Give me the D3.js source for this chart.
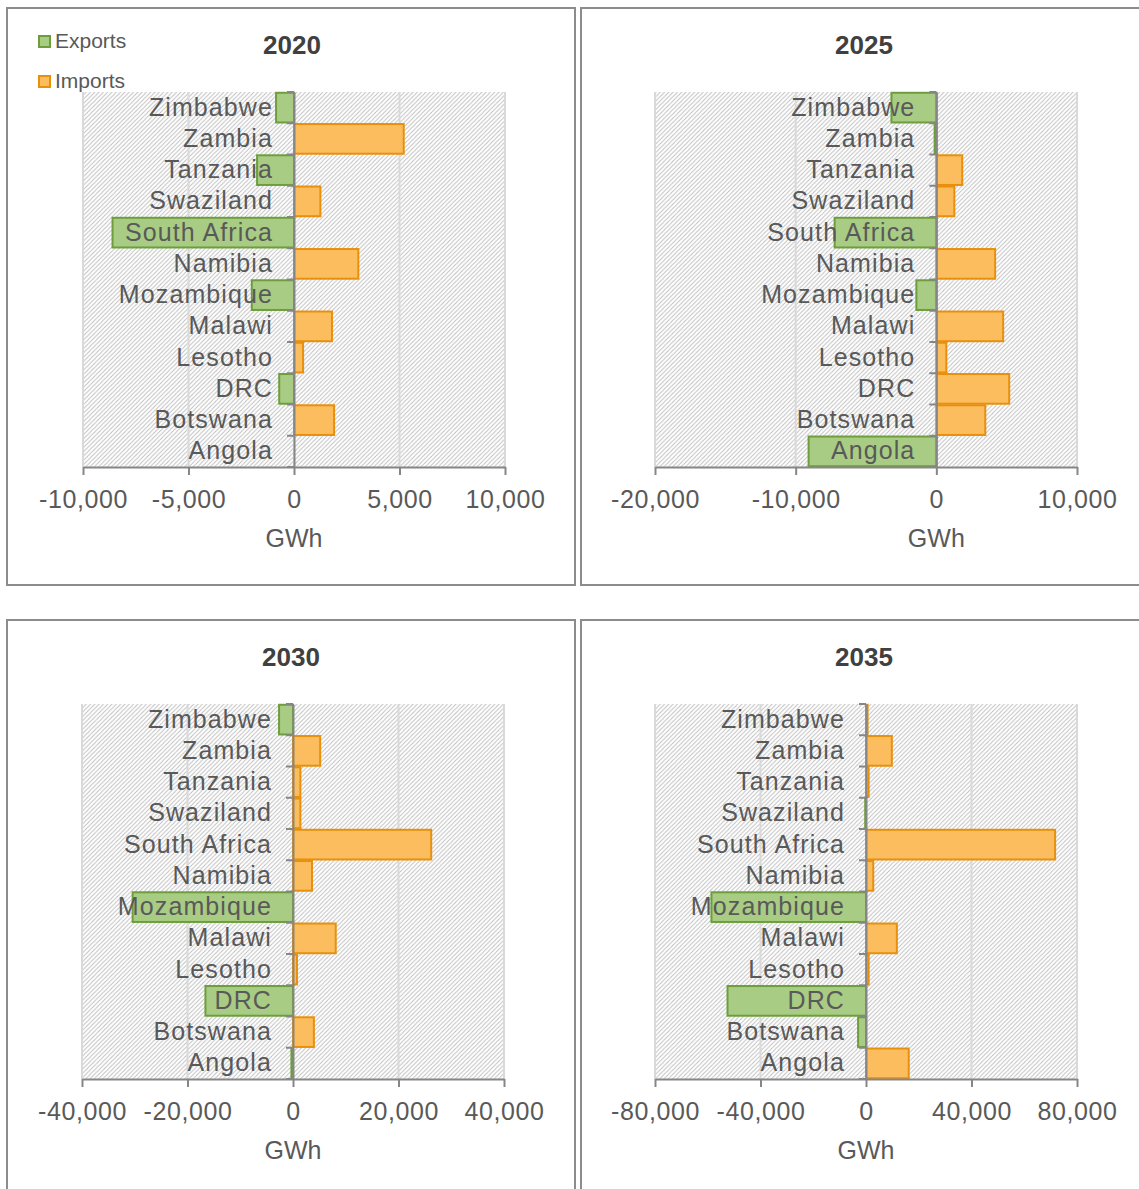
<!DOCTYPE html>
<html>
<head>
<meta charset="utf-8">
<script src="https://d3js.org/d3.v7.min.js"></script>
<style>
  body { margin: 0; background: #fff; }
  text { font-family: "Liberation Sans", Arial, sans-serif; }
</style>
</head>
<body>
<script>
// countries, bottom to top as in the source sheet
var countries = ["Angola", "Botswana", "DRC", "Lesotho", "Malawi", "Mozambique",
                 "Namibia", "South Africa", "Swaziland", "Tanzania", "Zambia", "Zimbabwe"];

// GWh, exports negative, one value per country (same order)
var exports2020 = [0, 0, -700, 0, 0, -2000, 0, -8600, 0, -1750, 0, -850];
var imports2020 = [0, 1900, 0, 430, 1800, 0, 3050, 0, 1250, 0, 5200, 0];

var exports2025 = [-9080, 0, 0, 0, 0, -1420, 0, -7230, 0, 0, -120, -3190];
var imports2025 = [0, 3480, 5180, 710, 4750, 0, 4180, 0, 1280, 1840, 0, 0];

var exports2030 = [-300, 0, -16600, 0, 0, -30400, 0, 0, 0, 0, 0, -2640];
var imports2030 = [0, 3960, 0, 750, 8100, 0, 3600, 26200, 1400, 1400, 5150, 0];

var exports2035 = [0, -3000, -52500, 0, 0, -58600, 0, 0, -300, 0, 0, 0];
var imports2035 = [16200, 0, 0, 1000, 11700, 0, 2750, 71700, 0, 1000, 9800, 600];

var years = ["2020", "2025", "2030", "2035"];
var xTicks2020 = [-10000, -5000, 0, 5000, 10000];
var xTicks2025 = [-20000, -10000, 0, 10000];
var xTicks2030 = [-40000, -20000, 0, 20000, 40000];
var xTicks2035 = [-80000, -40000, 0, 40000, 80000];

var panels = [
  {title: years[0], exp: exports2020, imp: imports2020, ticks: xTicks2020, x: 7,   y: 8,   w: 568, h: 577, px: 76, legend: true},
  {title: years[1], exp: exports2025, imp: imports2025, ticks: xTicks2025, x: 581, y: 8,   w: 560, h: 577, px: 74},
  {title: years[2], exp: exports2030, imp: imports2030, ticks: xTicks2030, x: 7,   y: 620, w: 568, h: 580, px: 75},
  {title: years[3], exp: exports2035, imp: imports2035, ticks: xTicks2035, x: 581, y: 620, w: 560, h: 580, px: 74}
];

var expFill = "#a9cc84", expStroke = "#6e9e3c";
var impFill = "#fbbd5e", impStroke = "#e8900c";
var textCol = "#595959";

var fmt = d3.formatLocale({decimal: ".", thousands: ",", grouping: [3], currency: ["", ""], minus: "-"}).format(",");

var svg = d3.select("body").append("svg")
    .attr("width", 1139)
    .attr("height", 1189);

var defs = svg.append("defs");
var pat = defs.append("pattern")
    .attr("id", "hatch")
    .attr("patternUnits", "userSpaceOnUse")
    .attr("width", 4.3).attr("height", 4.3);
pat.append("rect").attr("width", 4.3).attr("height", 4.3).attr("fill", "#fff");
pat.append("path")
    .attr("d", "M0,4.3 L4.3,0 M-1,1 L1,-1 M3.3,5.3 L5.3,3.3")
    .attr("stroke", "#bcbcbc")
    .attr("stroke-width", 0.9);

var plotW = 422, plotTop = 84, plotH = 375;

panels.forEach(function(p) {
  var g = svg.append("g").attr("transform", "translate(" + p.x + "," + p.y + ")");

  g.append("rect")
    .attr("x", 0).attr("y", 0)
    .attr("width", p.w).attr("height", p.h)
    .attr("fill", "none")
    .attr("stroke", "#8c8c8c")
    .attr("stroke-width", 2);

  g.append("text")
    .attr("x", p.px + plotW / 2 - 2)
    .attr("y", 46)
    .attr("text-anchor", "middle")
    .attr("font-size", 26)
    .attr("font-weight", "bold")
    .attr("fill", "#404040")
    .text(p.title);

  var x = d3.scaleLinear()
    .domain(d3.extent(p.ticks))
    .range([p.px, p.px + plotW]);

  var y = d3.scaleBand()
    .domain(countries.slice().reverse())
    .range([plotTop, plotTop + plotH])
    .paddingInner(0.05)
    .paddingOuter(0.025);

  // hatched plot area
  g.append("rect")
    .attr("x", x.range()[0]).attr("y", plotTop)
    .attr("width", plotW).attr("height", plotH)
    .attr("fill", "url(#hatch)");

  // vertical gridlines
  g.selectAll(".grid").data(p.ticks).enter()
    .append("line")
    .attr("x1", d => x(d)).attr("x2", d => x(d))
    .attr("y1", plotTop).attr("y2", plotTop + plotH)
    .attr("stroke", "#d9d9d9")
    .attr("stroke-width", 2);

  var rows = countries.map(function(c, i) { return {c: c, e: p.exp[i], m: p.imp[i]}; });

  // exports
  g.selectAll(".exp").data(rows.filter(d => d.e !== 0)).enter()
    .append("rect")
    .attr("x", d => x(d.e))
    .attr("y", d => y(d.c))
    .attr("width", d => x(0) - x(d.e))
    .attr("height", y.bandwidth())
    .attr("fill", expFill)
    .attr("stroke", expStroke)
    .attr("stroke-width", 2);

  // imports
  g.selectAll(".imp").data(rows.filter(d => d.m !== 0)).enter()
    .append("rect")
    .attr("x", x(0))
    .attr("y", d => y(d.c))
    .attr("width", d => x(d.m) - x(0))
    .attr("height", y.bandwidth())
    .attr("fill", impFill)
    .attr("stroke", impStroke)
    .attr("stroke-width", 2);

  // x axis
  var xa = g.append("g")
    .attr("transform", "translate(0," + (plotTop + plotH) + ")")
    .call(d3.axisBottom(x).tickValues(p.ticks).tickFormat(fmt).tickSize(8).tickSizeOuter(0).tickPadding(15));
  xa.select(".domain").attr("stroke", "#868686").attr("stroke-width", 2);
  xa.selectAll(".tick line").attr("stroke", "#868686").attr("stroke-width", 2);
  xa.selectAll(".tick text")
    .attr("font-size", 25)
    .attr("letter-spacing", 0.6)
    .attr("font-family", "Liberation Sans, Arial, sans-serif")
    .attr("fill", textCol);

  g.append("text")
    .attr("x", x(0))
    .attr("y", plotTop + plotH + 80)
    .attr("text-anchor", "middle")
    .attr("font-size", 25)
    .attr("fill", textCol)
    .text("GWh");

  // category axis at zero, ticks on band boundaries
  var ya = g.append("g")
    .attr("transform", "translate(" + x(0) + ",0)")
    .call(d3.axisLeft(y).tickSize(0).tickSizeOuter(0).tickPadding(21));
  ya.select(".domain").attr("stroke", "#868686").attr("stroke-width", 2);
  ya.selectAll(".tick text")
    .attr("font-size", 25)
    .attr("letter-spacing", 1.1)
    .attr("font-family", "Liberation Sans, Arial, sans-serif")
    .attr("fill", textCol);
  ya.selectAll(".bnd").data(d3.range(countries.length + 1)).enter()
    .append("line")
    .attr("x1", -7).attr("x2", 0)
    .attr("y1", i => plotTop + i * y.step())
    .attr("y2", i => plotTop + i * y.step())
    .attr("stroke", "#868686")
    .attr("stroke-width", 2);

  if (p.legend) {
    var items = [{name: "Exports", fill: expFill, stroke: expStroke},
                 {name: "Imports", fill: impFill, stroke: impStroke}];
    var lg = g.selectAll(".lg").data(items).enter().append("g")
      .attr("transform", (d, i) => "translate(32," + (28 + i * 40) + ")");
    lg.append("rect")
      .attr("width", 11).attr("height", 11)
      .attr("fill", d => d.fill)
      .attr("stroke", d => d.stroke)
      .attr("stroke-width", 2);
    lg.append("text")
      .attr("x", 16).attr("y", 12)
      .attr("font-size", 21)
      .attr("fill", textCol)
      .text(d => d.name);
  }
});
</script>
</body>
</html>
